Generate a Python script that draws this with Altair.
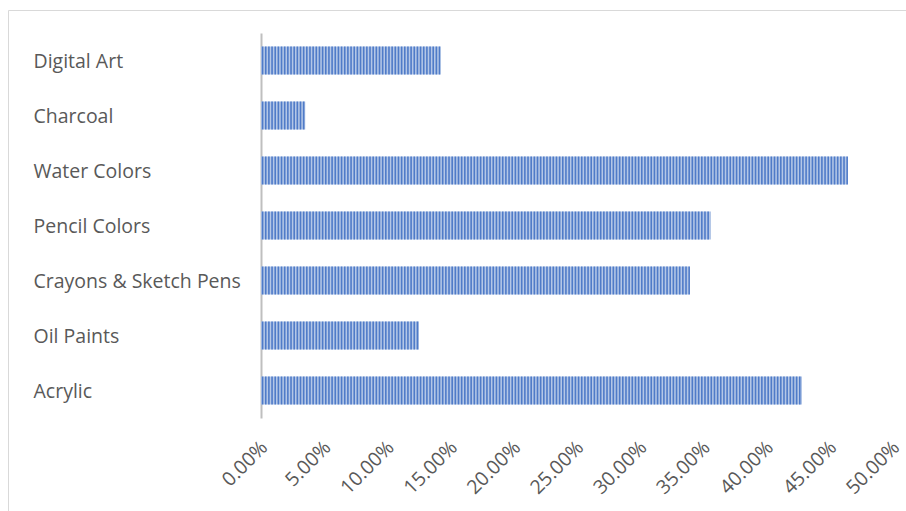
import altair as alt
import numpy as np
import pandas as pd

categories = ["Digital Art", "Charcoal", "Water Colors", "Pencil Colors",
              "Crayons & Sketch Pens", "Oil Paints", "Acrylic"]
values = [0.142, 0.035, 0.464, 0.356, 0.339, 0.125, 0.428]
tick_values = [0.0, 0.05, 0.10, 0.15, 0.20, 0.25, 0.30, 0.35, 0.40, 0.45, 0.50]

df = pd.DataFrame({"category": categories, "value": values})

# vertical stripe pattern (decoration) derived from each bar's value
STEP = 0.0025
rows = []
for c, v in zip(categories, values):
    for s in np.arange(STEP / 2, v, STEP):
        rows.append({"category": c, "stripe": float(s)})
stripes = pd.DataFrame(rows)

W, H = 632, 385
FONT = "Open Sans"
FS = 19.5

x_scale = alt.Scale(domain=[0, 0.5], nice=False, zero=True)
y_enc = alt.Y("category:N", sort=categories,
              scale=alt.Scale(paddingInner=0.49, paddingOuter=0.245),
              axis=alt.Axis(title=None, labelAlign="left", labelPadding=228,
                            tickSize=0, ticks=False, labelFont=FONT,
                            labelFontSize=FS, labelColor="#595959",
                            labelLimit=400,
                            domainColor="#BFBFBF", domainWidth=2,
                            labelBaseline="middle", labelOffset=1))

bars = alt.Chart(df).mark_bar(color="#B4C7E7").encode(
    x=alt.X("value:Q", scale=x_scale,
            axis=alt.Axis(title=None, values=tick_values, format=".2%",
                          labelAngle=-45, labelAlign="right",
                          labelBaseline="middle", labelPadding=26,
                          labelOffset=3,
                          ticks=False, tickSize=0, domain=False, grid=False,
                          labelFont=FONT, labelFontSize=FS,
                          labelColor="#595959")),
    y=y_enc,
)

stripe_marks = alt.Chart(stripes).mark_tick(
    color="#4472C4", thickness=1.6, size=28, orient="vertical", opacity=0.9
).encode(
    x=alt.X("stripe:Q", scale=x_scale),
    y=alt.Y("category:N", sort=categories),
)

frame = alt.Chart(pd.DataFrame({"k": [0]})).mark_rect(
    fill="transparent", stroke="#D9D9D9", strokeWidth=1
).encode(
    x=alt.value(-252.5), x2=alt.value(W + 40),
    y=alt.value(-22.5), y2=alt.value(H + 120),
)

chart = alt.layer(frame, bars, stripe_marks).properties(
    width=W, height=H,
    background="white",
    autosize=alt.AutoSizeParams(type="none"),
    padding={"left": 261, "top": 33, "right": 13, "bottom": 93},
).configure_view(strokeWidth=0, stroke="transparent")

chart.save("out.html", embed_options={"renderer": "svg", "actions": False})
